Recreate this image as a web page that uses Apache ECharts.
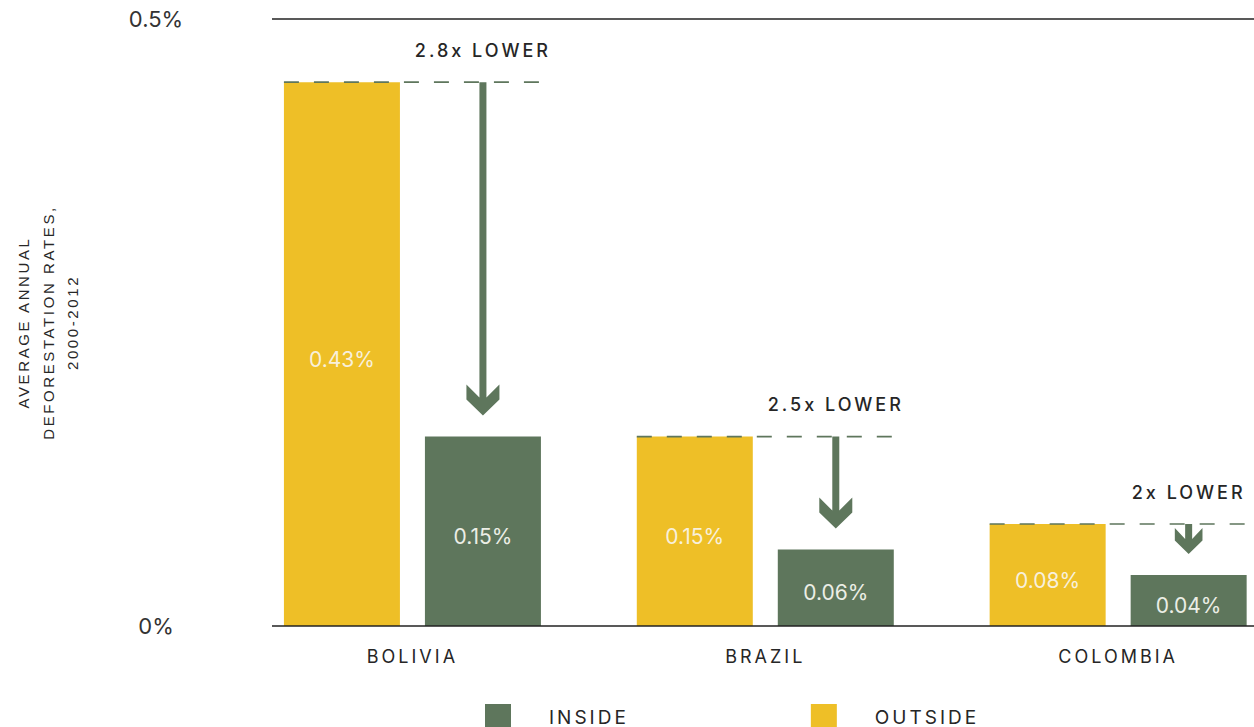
<!DOCTYPE html>
<html><head><meta charset="utf-8">
<script src="https://cdn.jsdelivr.net/npm/echarts@6/dist/echarts.min.js"></script>
<style>
html,body{margin:0;padding:0;background:#fff;overflow:hidden}
#c{width:1254px;height:727px}
#c text[fill="#262626"]{letter-spacing:3px}
#c text[fill="#272727"]{letter-spacing:2.6px}
</style></head><body><div id="c"></div>
<script>
const categories = ['BOLIVIA', 'BRAZIL', 'COLOMBIA'];
const outsideValues = [0.448, 0.156, 0.084];
const insideValues = [0.156, 0.063, 0.042];
const outsideLabels = ['0.43%', '0.15%', '0.08%'];
const insideLabels = ['0.15%', '0.06%', '0.04%'];
const ratioLabels = ['2.8x LOWER', '2.5x LOWER', '2x LOWER'];
const yTicks = [0, 0.5];
const yTickLabels = ['0%', '0.5%'];
const yTitle = 'AVERAGE ANNUAL\nDEFORESTATION RATES,\n2000-2012';
const legendNames = ['INSIDE', 'OUTSIDE'];
const categoryIndex = categories.map((c, i) => i);

const YELLOW = '#EEBF27', GREEN = '#5E765C';
const BAR_W = 116, BAR_GAP = 25;
const X_MIN = -0.5, X_MAX = 2.385;

const chart = echarts.init(document.getElementById('c'), null, {renderer: 'svg'});

function renderAnnot(params, api) {
  const i = api.value(0);
  const top = api.coord([i, api.value(1)]);
  const inner = api.coord([i, api.value(2)]);
  const cx = top[0];
  const x0 = cx - BAR_GAP / 2 - BAR_W, x1 = cx + BAR_GAP / 2 + BAR_W;
  const ax = cx + BAR_GAP / 2 + BAR_W / 2;
  const y0 = top[1];
  const tip = inner[1] - 21;
  const len = tip - y0;
  const s = Math.min(1, (len - 4) / 31);
  const hw = 16.5 * s, hh = 31 * s, side = 16 * s, notch = 18 * s, sw = 3.5;
  const pts = [
    [ax - hw, tip - hh], [ax - sw, tip - notch], [ax - sw, y0], [ax + sw, y0],
    [ax + sw, tip - notch], [ax + hw, tip - hh], [ax + hw, tip - side], [ax, tip],
    [ax - hw, tip - side]
  ];
  return {
    type: 'group',
    children: [
      {type: 'line', shape: {x1: x0, y1: y0, x2: x1 + 8, y2: y0},
       style: {stroke: GREEN, lineWidth: 1.6, lineDash: [15, 15]}},
      {type: 'polygon', shape: {points: pts}, style: {fill: GREEN}},
      {type: 'text', style: {text: ratioLabels[params.dataIndex], x: ax, y: y0 - 32,
        align: 'center', verticalAlign: 'middle', fill: '#262626',
        fontSize: 18, fontWeight: 500, fontFamily: 'Inter'}}
    ]
  };
}

function renderFrame(params, api) {
  const y = api.coord([0, api.value(1)])[1];
  return {type: 'line', shape: {x1: params.coordSys.x + 36, y1: y, x2: api.getWidth(), y2: y},
    style: {stroke: '#222', lineWidth: 1.3}};
}

chart.setOption({
  animation: false,
  grid: {left: 236, right: 0, top: 19, bottom: 101},
  legend: {
    data: legendNames, icon: 'rect', itemWidth: 26, itemHeight: 26,
    left: 480, top: 699, itemGap: 200,
    textStyle: {color: '#262626', fontSize: 19, fontFamily: 'Inter', padding: [0, 0, 0, 33]}
  },
  xAxis: {
    type: 'value', min: X_MIN, max: X_MAX,
    axisLine: {show: false}, axisTick: {show: false}, splitLine: {show: false},
    axisLabel: {customValues: categoryIndex, formatter: v => categories[Math.round(v)] || '',
      color: '#262626', fontSize: 18, fontFamily: 'Inter', margin: 21}
  },
  yAxis: {
    type: 'value', min: 0, max: 0.5, interval: 0.5,
    axisLine: {show: false}, axisTick: {show: false}, splitLine: {show: false},
    axisLabel: {formatter: v => yTickLabels[yTicks.indexOf(v)], color: '#333333', fontSize: 22,
      fontFamily: 'Inter', align: 'center', margin: 80},
    name: yTitle, nameLocation: 'middle', nameRotate: 90, nameGap: 151,
    nameTextStyle: {color: '#272727', fontSize: 15, lineHeight: 24.5, fontFamily: 'Liberation Sans', align: 'center'}
  },
  series: [
    {type: 'bar', name: 'OUTSIDE', data: outsideValues.map((v, i) => [categoryIndex[i], v]),
     barWidth: BAR_W, barGap: (BAR_GAP / BAR_W * 100) + '%',
     itemStyle: {color: YELLOW},
     label: {show: true, position: 'inside', offset: [0, 5], formatter: p => outsideLabels[p.dataIndex],
       color: '#f8f0dc', fontSize: 21, fontFamily: 'Inter'}},
    {type: 'bar', name: 'INSIDE', data: insideValues.map((v, i) => [categoryIndex[i], v]),
     barWidth: BAR_W, barGap: (BAR_GAP / BAR_W * 100) + '%',
     itemStyle: {color: GREEN},
     label: {show: true, position: 'inside', offset: [0, 5], formatter: p => insideLabels[p.dataIndex],
       color: '#eceee6', fontSize: 21, fontFamily: 'Inter'}},
    {type: 'custom', name: 'frame', renderItem: renderFrame, data: yTicks.map(v => [0, v]),
     encode: {x: 0, y: 1}, silent: true, z: 5},
    {type: 'custom', name: 'annot', renderItem: renderAnnot,
     data: categories.map((c, i) => [categoryIndex[i], outsideValues[i], insideValues[i]]),
     encode: {x: 0, y: 1}, silent: true, z: 6}
  ]
});
</script></body></html>
